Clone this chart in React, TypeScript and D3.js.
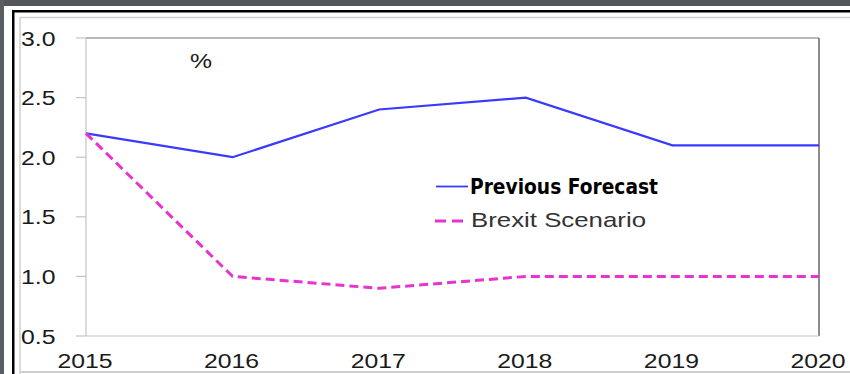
import React from "react";
import * as d3 from "d3";

const years = [2015, 2016, 2017, 2018, 2019, 2020];
const previousForecast = [2.2, 2.0, 2.4, 2.5, 2.1, 2.1];
const brexitScenario = [2.2, 1.0, 0.9, 1.0, 1.0, 1.0];
const yTicks = [0.5, 1.0, 1.5, 2.0, 2.5, 3.0];
const seriesNames = ["Previous Forecast", "Brexit Scenario"];

const W = 850;
const H = 374;
const FONT = "'Liberation Sans', Arial, sans-serif";
const SX = 1.18;
const FS = 21;

export default function App() {
  const x = d3.scaleLinear().domain([2015, 2020]).range([86, 819]);
  const y = d3.scaleLinear().domain([0.5, 3.0]).range([336, 38]);
  const line = d3
    .line<number>()
    .x((_, i) => x(years[i]))
    .y((d) => y(d));

  return (
    <svg
      width={W}
      height={H}
      style={{ position: "absolute", left: 0, top: 0, background: "#fff" }}
    >
      {/* outer frame decoration */}
      <rect x={0} y={0} width={W} height={6} fill="#53565a" />
      <rect x={0} y={0} width={4} height={H} fill="#5a5d61" />
      <rect x={12} y={10} width={W - 12} height={2.5} fill="#000" />
      <rect x={12} y={10} width={2.5} height={H - 10} fill="#000" />
      <line x1={20} y1={17.5} x2={W} y2={17.5} stroke="#d0d0d0" strokeWidth={1.5} />
      <line x1={20} y1={17.5} x2={20} y2={H} stroke="#d0d0d0" strokeWidth={1.5} />
      <line x1={20} y1={372} x2={W} y2={372} stroke="#d0d0d0" strokeWidth={2} />

      {/* plot frame */}
      <line x1={x(2015)} y1={y(3)} x2={x(2020)} y2={y(3)} stroke="#a0a0a0" strokeWidth={1.5} />
      <line x1={x(2020)} y1={y(3)} x2={x(2020)} y2={y(0.5)} stroke="#8c8c8c" strokeWidth={2} />
      <line x1={x(2015)} y1={y(3)} x2={x(2015)} y2={y(0.5)} stroke="#c4c4c4" strokeWidth={1.2} />
      <line x1={x(2015)} y1={y(0.5)} x2={x(2020)} y2={y(0.5)} stroke="#c4c4c4" strokeWidth={1.2} />

      {/* y ticks */}
      {yTicks.map((t) => (
        <g key={t}>
          <line x1={76} y1={y(t)} x2={x(2015)} y2={y(t)} stroke="#c4c4c4" strokeWidth={1.2} />
          <g transform={`translate(21,${y(t) + 7.5}) scale(${SX},1)`}>
            <text fontFamily={FONT} fontSize={FS} fill="#1a1a1a">
              {t.toFixed(1)}
            </text>
          </g>
        </g>
      ))}

      {/* x labels */}
      {years.map((yr) => (
        <g key={yr} transform={`translate(${x(yr) - 1},368) scale(${SX},1)`}>
          <text fontFamily={FONT} fontSize={FS} fill="#1a1a1a" textAnchor="middle">
            {yr}
          </text>
        </g>
      ))}

      {/* unit */}
      <g transform={`translate(201,68) scale(${SX},1)`}>
        <text fontFamily={FONT} fontSize={FS} fill="#1a1a1a" textAnchor="middle">
          %
        </text>
      </g>

      {/* series */}
      <path d={line(previousForecast) || ""} fill="none" stroke="#3a3aff" strokeWidth={2.2} />
      <path
        d={line(brexitScenario) || ""}
        fill="none"
        stroke="#e733cf"
        strokeWidth={3}
        strokeDasharray="9,5"
      />

      {/* legend */}
      <line x1={436} y1={186.5} x2={468} y2={186.5} stroke="#3a3aff" strokeWidth={1.8} />
      <text
        x={470}
        y={194}
        fontFamily="'DejaVu Sans', sans-serif"
        fontWeight="bold"
        fontSize={21}
        fill="#000"
        textLength={188}
        lengthAdjust="spacingAndGlyphs"
      >
        {seriesNames[0]}
      </text>
      <line
        x1={435}
        y1={221}
        x2={463}
        y2={221}
        stroke="#e733cf"
        strokeWidth={3}
        strokeDasharray="11,6"
      />
      <text
        x={471}
        y={227}
        fontFamily={FONT}
        fontSize={FS}
        fill="#333"
        textLength={175}
        lengthAdjust="spacingAndGlyphs"
      >
        {seriesNames[1]}
      </text>
    </svg>
  );
}
